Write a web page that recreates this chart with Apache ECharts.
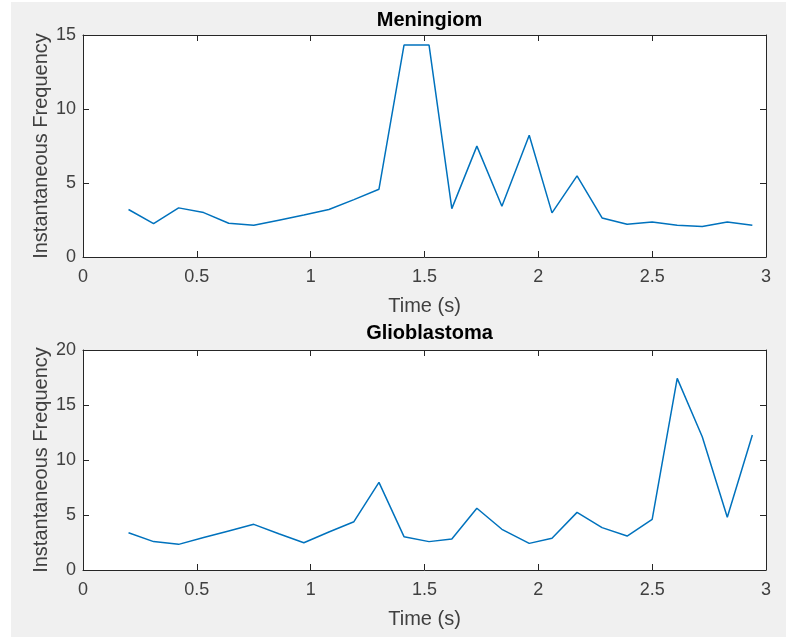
<!DOCTYPE html>
<html>
<head>
<meta charset="utf-8">
<script src="https://cdn.jsdelivr.net/npm/echarts@6/dist/echarts.min.js"></script>
<style>
  html, body { margin: 0; padding: 0; background: #ffffff; }
  #chart { width: 786px; height: 639px; }
</style>
</head>
<body>
<div id="chart"></div>
<script>
// Sample times (s)
const timeS = [0.20, 0.31, 0.42, 0.53, 0.64, 0.75, 0.86, 0.97, 1.08, 1.19, 1.30, 1.41, 1.52,
               1.62, 1.73, 1.84, 1.96, 2.06, 2.17, 2.28, 2.39, 2.50, 2.61, 2.72, 2.83, 2.94];
// Instantaneous frequency per tumour type
const meningiom = [3.21, 2.26, 3.32, 3.00, 2.28, 2.14, 2.49, 2.84, 3.21, 3.88, 4.58, 14.32, 14.32,
                   3.27, 7.49, 3.43, 8.23, 2.98, 5.48, 2.64, 2.21, 2.37, 2.14, 2.06, 2.37, 2.14];
const glioblastoma = [3.39, 2.58, 2.33, 2.95, 3.55, 4.15, 3.30, 2.48, 3.46, 4.39, 7.97, 3.03, 2.58,
                      2.82, 5.61, 3.70, 2.42, 2.88, 5.24, 3.85, 3.09, 4.60, 17.42, 12.12, 4.79, 12.27];
const panelTitles = ['Meningiom', 'Glioblastoma'];
const xLabel = 'Time (s)';
const yLabel = 'Instantaneous Frequency';
const xTicks = { min: 0, max: 3, interval: 0.5 };
const yTicksTop = { min: 0, max: 15, interval: 5 };
const yTicksBottom = { min: 0, max: 20, interval: 5 };

const FONT = '"Liberation Sans", Arial, Helvetica, sans-serif';
const AX = '#262626';
const TXT = '#404040';

const chart = echarts.init(document.getElementById('chart'), null, { renderer: 'canvas' });

const grids = [
  { left: 83, top: 35, width: 683, height: 222 },
  { left: 83, top: 350, width: 683, height: 220 }
];

function xMain(gi) {
  return {
    type: 'value', gridIndex: gi, position: 'bottom',
    min: xTicks.min, max: xTicks.max, interval: xTicks.interval,
    name: xLabel, nameLocation: 'middle', nameGap: 39,
    nameTextStyle: { fontFamily: FONT, fontSize: 20, color: TXT },
    axisLine: { show: true, onZero: false, lineStyle: { color: AX, width: 1 } },
    axisTick: { show: true, inside: true, length: 6, lineStyle: { color: AX } },
    axisLabel: { show: true, margin: 11, fontFamily: FONT, fontSize: 18, color: TXT,
                 showMinLabel: true, showMaxLabel: true },
    splitLine: { show: false }
  };
}
function xMirror(gi) {
  return {
    type: 'value', gridIndex: gi, position: 'top',
    min: xTicks.min, max: xTicks.max, interval: xTicks.interval,
    axisLine: { show: true, onZero: false, lineStyle: { color: AX, width: 1 } },
    axisTick: { show: true, inside: true, length: 6, lineStyle: { color: AX } },
    axisLabel: { show: false }, splitLine: { show: false }
  };
}
function yMain(gi, t) {
  return {
    type: 'value', gridIndex: gi, position: 'left',
    min: t.min, max: t.max, interval: t.interval,
    name: yLabel, nameLocation: 'middle', nameGap: 32, nameRotate: 90,
    nameMoveOverlap: false,
    nameTextStyle: { fontFamily: FONT, fontSize: 20, color: TXT },
    axisLine: { show: true, onZero: false, lineStyle: { color: AX, width: 1 } },
    axisTick: { show: true, inside: true, length: 6, lineStyle: { color: AX } },
    axisLabel: { show: true, margin: 7, fontFamily: FONT, fontSize: 18, color: TXT,
                 showMinLabel: true, showMaxLabel: true },
    splitLine: { show: false }
  };
}
function yMirror(gi, t) {
  return {
    type: 'value', gridIndex: gi, position: 'right',
    min: t.min, max: t.max, interval: t.interval,
    axisLine: { show: true, onZero: false, lineStyle: { color: AX, width: 1 } },
    axisTick: { show: true, inside: true, length: 6, lineStyle: { color: AX } },
    axisLabel: { show: false }, splitLine: { show: false }
  };
}

function pairs(xs, ys) { return xs.map((x, i) => [x, ys[i]]); }

const option = {
  animation: false,
  backgroundColor: 'transparent',
  graphic: [{
    type: 'rect', z: -10, silent: true,
    shape: { x: 11, y: 2, width: 775, height: 635 },
    style: { fill: '#f0f0f0' }
  }],
  title: [
    { text: panelTitles[0], left: 424.5, top: 5, textAlign: 'center',
      textStyle: { fontFamily: FONT, fontSize: 20, fontWeight: 'bold', color: '#000' } },
    { text: panelTitles[1], left: 424.5, top: 318, textAlign: 'center',
      textStyle: { fontFamily: FONT, fontSize: 20, fontWeight: 'bold', color: '#000' } }
  ],
  grid: grids.map(g => Object.assign({ show: true, backgroundColor: '#ffffff', borderWidth: 0 }, g)),
  xAxis: [xMain(0), xMirror(0), xMain(1), xMirror(1)],
  yAxis: [yMain(0, yTicksTop), yMirror(0, yTicksTop), yMain(1, yTicksBottom), yMirror(1, yTicksBottom)],
  series: [
    { type: 'line', name: panelTitles[0], xAxisIndex: 0, yAxisIndex: 0,
      data: pairs(timeS, meningiom), showSymbol: false,
      lineStyle: { color: '#0072BD', width: 1.5 }, itemStyle: { color: '#0072BD' } },
    { type: 'line', name: panelTitles[1], xAxisIndex: 2, yAxisIndex: 2,
      data: pairs(timeS, glioblastoma), showSymbol: false,
      lineStyle: { color: '#0072BD', width: 1.5 }, itemStyle: { color: '#0072BD' } }
  ]
};
chart.setOption(option);
</script>
</body>
</html>
